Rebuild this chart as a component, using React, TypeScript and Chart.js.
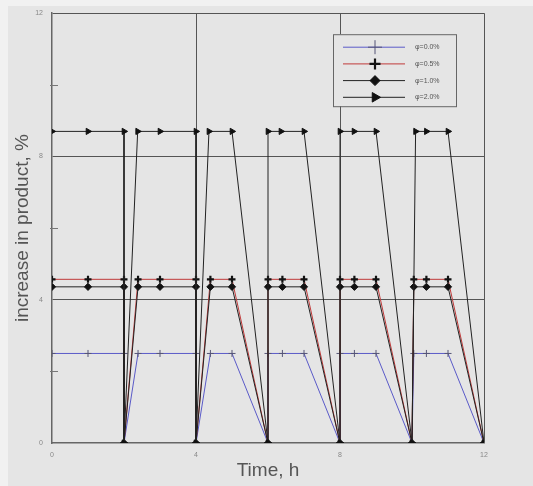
import React, { useEffect, useRef } from "react";
import { Chart, registerables } from "chart.js";
import { drawPoint } from "chart.js/helpers";

Chart.register(...registerables);

// Time points (h)
const timesTri = [0, 1, 2, 2, 2.38, 3, 4, 4, 4.36, 5, 6, 6, 6.36, 7, 8, 8, 8.39, 9, 10, 10.1, 10.4, 11, 12];
const timesLow = [0, 1, 2, 2, 2.39, 3, 4, 4, 4.4, 5, 6, 6, 6.4, 7, 8, 8, 8.4, 9, 10, 10.05, 10.4, 11, 12];

// Increase in product, %
const phi00 = [2.5, 2.5, 2.5, 0, 2.5, 2.5, 2.5, 0, 2.5, 2.5, 0, 2.5, 2.5, 2.5, 0, 2.5, 2.5, 2.5, 0, 2.5, 2.5, 2.5, 0];
const phi05 = [4.57, 4.57, 4.57, 0, 4.57, 4.57, 4.57, 0, 4.57, 4.57, 0, 4.57, 4.57, 4.57, 0, 4.57, 4.57, 4.57, 0, 4.57, 4.57, 4.57, 0];
const phi10 = [4.36, 4.36, 4.36, 0, 4.36, 4.36, 4.36, 0, 4.36, 4.36, 0, 4.36, 4.36, 4.36, 0, 4.36, 4.36, 4.36, 0, 4.36, 4.36, 4.36, 0];
const phi20 = [8.7, 8.7, 8.7, 0, 8.7, 8.7, 8.7, 0, 8.7, 8.7, 0, 8.7, 8.7, 8.7, 0, 8.7, 8.7, 8.7, 0, 8.7, 8.7, 8.7, 0];

const seriesLabels = ["φ=0.0%", "φ=0.5%", "φ=1.0%", "φ=2.0%"];
const axisTicks = [0, 4, 8, 12];
const minorTicks = [2, 6, 10];

const BG = "#e5e5e5";
const EDGE = "#f1f1f1";
const FONT = "'Liberation Sans', Arial, sans-serif";

const toPts = (xs: number[], ys: number[]) => xs.map((x, i) => ({ x, y: ys[i] }));

const bgPlugin = {
  id: "bgFill",
  beforeDraw(chart: any) {
    const { ctx, width, height } = chart;
    ctx.save();
    ctx.fillStyle = BG;
    ctx.fillRect(0, 0, width, height);
    ctx.fillStyle = EDGE;
    ctx.fillRect(0, 0, 8, height);
    ctx.fillRect(0, 0, width, 6);
    ctx.restore();
  },
};

const minorTickPlugin = {
  id: "minorTicks",
  afterDraw(chart: any) {
    const { ctx, chartArea } = chart;
    const ys = chart.scales.y;
    ctx.save();
    ctx.strokeStyle = "#777";
    ctx.lineWidth = 1;
    minorTicks.forEach((v) => {
      const py = Math.round(ys.getPixelForValue(v)) + 0.5;
      ctx.beginPath();
      ctx.moveTo(chartArea.left - 2, py);
      ctx.lineTo(chartArea.left + 6, py);
      ctx.stroke();
    });
    ctx.restore();
  },
};

const legendPlugin = {
  id: "boxLegend",
  afterDraw(chart: any) {
    const { ctx, chartArea } = chart;
    const x0 = chartArea.left + 281;
    const y0 = chartArea.top + 21;
    const w = 123;
    const h = 72;
    ctx.save();
    ctx.fillStyle = BG;
    ctx.fillRect(x0, y0, w, h);
    ctx.strokeStyle = "#666";
    ctx.lineWidth = 1;
    ctx.strokeRect(x0 + 0.5, y0 + 0.5, w, h);
    chart.data.datasets.forEach((ds: any, i: number) => {
      const y = y0 + 13 + i * 16.7;
      ctx.strokeStyle = ds.borderColor;
      ctx.lineWidth = ds.borderWidth;
      ctx.beginPath();
      ctx.moveTo(x0 + 10, y);
      ctx.lineTo(x0 + 72, y);
      ctx.stroke();
      ctx.fillStyle = ds.pointBackgroundColor;
      ctx.strokeStyle = ds.pointBorderColor;
      ctx.lineWidth = ds.pointBorderWidth;
      drawPoint(
        ctx,
        {
          pointStyle: ds.pointStyle,
          rotation: ds.pointRotation || 0,
          radius: ds.legendRadius,
          borderWidth: ds.pointBorderWidth,
        },
        x0 + 42,
        y
      );
      ctx.fillStyle = "#555";
      ctx.font = `7px ${FONT}`;
      ctx.textBaseline = "middle";
      ctx.textAlign = "left";
      ctx.fillText(ds.label, x0 + 82, y);
    });
    ctx.restore();
  },
};

export default function App() {
  const ref = useRef<HTMLCanvasElement | null>(null);

  useEffect(() => {
    document.body.style.margin = "0";
    document.body.style.overflow = "hidden";
    if (!ref.current) return;
    const chart = new Chart(ref.current, {
      type: "scatter",
      data: {
        datasets: [
          {
            label: seriesLabels[0],
            data: toPts(timesLow, phi00),
            showLine: true,
            borderColor: "#5a5ac8",
            borderWidth: 1,
            pointStyle: "cross",
            pointRadius: 3.5,
            pointBorderWidth: 1,
            pointBackgroundColor: "#555577",
            pointBorderColor: "#555577",
            legendRadius: 7,
            order: 4,
          } as any,
          {
            label: seriesLabels[1],
            data: toPts(timesLow, phi05),
            showLine: true,
            borderColor: "#c03a3a",
            borderWidth: 1,
            pointStyle: "cross",
            pointRadius: 3.5,
            pointBorderWidth: 2.2,
            pointBackgroundColor: "#111",
            pointBorderColor: "#111",
            legendRadius: 5.5,
            order: 3,
          } as any,
          {
            label: seriesLabels[2],
            data: toPts(timesLow, phi10),
            showLine: true,
            borderColor: "#222",
            borderWidth: 1,
            pointStyle: "rectRot",
            pointRadius: 3.6,
            pointBorderWidth: 1,
            pointBackgroundColor: "#111",
            pointBorderColor: "#111",
            legendRadius: 5,
            order: 2,
          } as any,
          {
            label: seriesLabels[3],
            data: toPts(timesTri, phi20),
            showLine: true,
            borderColor: "#222",
            borderWidth: 1,
            pointStyle: "triangle",
            pointRotation: 90,
            pointRadius: 3.6,
            pointBorderWidth: 1,
            pointBackgroundColor: "#111",
            pointBorderColor: "#111",
            legendRadius: 5.5,
            order: 1,
          } as any,
        ],
      },
      options: {
        animation: false,
        responsive: false,
        layout: { padding: { top: 3, right: 49, left: 0, bottom: 0 } },
        plugins: {
          legend: { display: false },
          tooltip: { enabled: false },
        },
        scales: {
          x: {
            type: "linear",
            min: 0,
            max: 12,
            afterFit: (s: any) => {
              s.height = 43;
            },
            afterBuildTicks: (s: any) => {
              s.ticks = axisTicks.map((v) => ({ value: v }));
            },
            ticks: {
              font: { size: 7, family: FONT },
              color: "#888",
              padding: 8,
              maxRotation: 0,
            },
            grid: {
              drawTicks: false,
              color: (c: any) => (c.tick && c.tick.value === 0 ? "rgba(0,0,0,0)" : "#555"),
              lineWidth: 1,
            },
            border: { color: "#666", width: 1.5 },
            title: {
              display: true,
              text: "Time, h",
              color: "#555",
              font: { size: 19, family: FONT },
              padding: { top: 0, bottom: 4 },
            },
          },
          y: {
            type: "linear",
            min: 0,
            max: 12,
            afterFit: (s: any) => {
              s.width = 52;
            },
            afterBuildTicks: (s: any) => {
              s.ticks = axisTicks.map((v) => ({ value: v }));
            },
            ticks: {
              font: { size: 7, family: FONT },
              color: "#888",
              padding: 9,
            },
            grid: {
              drawTicks: false,
              color: (c: any) => (c.tick && c.tick.value === 0 ? "rgba(0,0,0,0)" : "#555"),
              lineWidth: 1,
            },
            border: { color: "#666", width: 1.5 },
            title: {
              display: true,
              text: "increase in product, %",
              color: "#555",
              font: { size: 19, family: FONT },
              padding: { top: 11, bottom: 0 },
            },
          },
        },
      },
      plugins: [bgPlugin, minorTickPlugin, legendPlugin],
    });
    return () => chart.destroy();
  }, []);

  return (
    <div style={{ width: 533, height: 486 }}>
      <canvas ref={ref} width={533} height={486} style={{ display: "block" }} />
    </div>
  );
}
